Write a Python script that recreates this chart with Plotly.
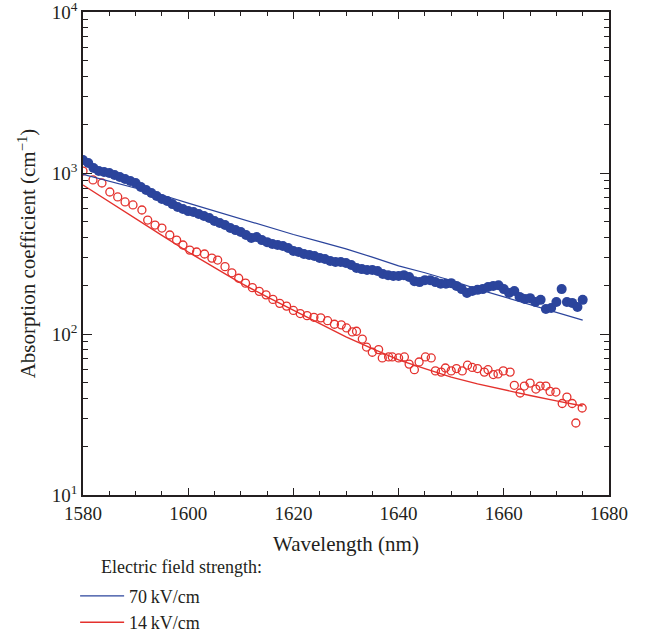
import plotly.graph_objects as go

# ---- data ----
blue_wl = list(range(1580, 1676))
blue_abs = [1205, 1153, 1074, 1028, 1014, 1000, 972, 944, 918, 892,
            867, 819, 784, 751, 719, 690, 670, 641, 615, 597,
            580, 572, 556, 540, 525, 503, 489, 475, 455, 442,
            430, 412, 395, 400, 383, 372, 362, 357, 352, 342,
            328, 323, 314, 310, 305, 297, 292, 284, 280, 280,
            276, 268, 257, 253, 250, 250, 246, 236, 232, 229,
            229, 232, 226, 213, 210, 216, 216, 210, 205, 205,
            207, 199, 190, 180, 185, 188, 190, 196, 199, 201,
            190, 180, 185, 170, 165, 167, 158, 163, 143, 145,
            158, 190, 158, 156, 147, 163]

red_wl = [1580.0, 1581.9, 1583.6, 1585.1, 1586.6, 1588.0, 1589.5, 1591.2, 1592.3, 1593.7,
          1595.0, 1596.5, 1597.8, 1599.0, 1600.3, 1601.6, 1603.1, 1604.5, 1605.6, 1607.0,
          1608.3, 1609.6, 1610.9, 1612.2, 1613.5, 1614.8, 1616.1, 1617.4, 1618.7, 1620.0,
          1621.3, 1622.6, 1623.9, 1625.2, 1626.5, 1627.8, 1629.1, 1630.1, 1631.2, 1632.0,
          1633.1, 1633.9, 1635.0, 1636.2, 1636.9, 1638.1, 1638.8, 1640.0, 1641.1, 1642.0,
          1643.0, 1643.9, 1645.1, 1646.2, 1647.0, 1648.1, 1648.9, 1650.0, 1651.0, 1652.1,
          1653.1, 1654.0, 1655.0, 1656.3, 1657.0, 1658.0, 1658.9, 1659.9, 1661.2, 1662.0,
          1663.1, 1663.9, 1665.0, 1666.1, 1666.9, 1668.0, 1668.8, 1669.9, 1671.1, 1672.0,
          1673.0, 1673.7, 1674.9]
red_abs = [1028, 906, 867, 762, 710, 661, 633, 589, 510, 475,
           455, 412, 383, 357, 332, 323, 314, 296, 288, 262,
           240, 222, 207, 194, 184, 175, 164, 155, 149, 140,
           134, 130, 127, 126, 121, 115, 114, 109, 103, 104,
           93, 83, 77, 80, 71, 72, 72, 71, 72, 65,
           60, 67, 72, 71, 59, 58, 61.5, 59, 61, 59,
           64, 62, 61, 58, 60, 56, 56.5, 59, 58, 48,
           43, 47.5, 49.6, 45.5, 47.5, 47.5, 44, 43.6, 37, 40.6,
           37, 28, 34.7]

fit_wl = list(range(1580, 1680, 5))
fit_70 = [980, 890, 810, 730, 650, 580, 520, 465, 415, 375,
          338, 300, 265, 240, 215, 190, 170, 153, 137, 122]
fit_14 = [842, 660, 518, 410, 323, 258, 207, 170, 141, 116,
          96, 81, 69, 61, 54, 49, 45, 41.5, 38.4, 35.7]

BLUE = "#2b449c"
RED = "#e4312d"
AXC = "#231f20"
FONT = "Liberation Serif"

fig = go.Figure()
fig.add_trace(go.Scatter(x=blue_wl, y=blue_abs, mode="markers", showlegend=False,
                         marker=dict(color=BLUE, size=10, line=dict(width=0))))
fig.add_trace(go.Scatter(x=red_wl, y=red_abs, mode="markers", showlegend=False,
                         marker=dict(symbol="circle-open", color=RED, size=8,
                                     line=dict(width=1.3, color=RED))))
fig.add_trace(go.Scatter(x=fit_wl, y=fit_70, mode="lines", name="70\u2009kV/cm",
                         legendgroup="a", line=dict(color=BLUE, width=1.2)))
fig.add_trace(go.Scatter(x=fit_wl, y=fit_14, mode="lines", name="14\u2009kV/cm",
                         legendgroup="b", line=dict(color=RED, width=1.4)))

fig.update_layout(
    width=657, height=638,
    margin=dict(l=83, r=48, t=12, b=143, autoexpand=False),
    paper_bgcolor="white", plot_bgcolor="white",
    font=dict(family=FONT, size=19, color=AXC),
    showlegend=True,
    legend=dict(x=-0.015, y=-0.171, xanchor="left", yanchor="top",
                bgcolor="rgba(0,0,0,0)", tracegroupgap=0, itemwidth=44,
                font=dict(family=FONT, size=18, color=AXC)),
    annotations=[dict(text="Electric field strength:", x=0.03, y=-0.125,
                      xref="paper", yref="paper", xanchor="left", yanchor="top",
                      showarrow=False, font=dict(family=FONT, size=18, color=AXC))],
)
fig.update_xaxes(
    range=[1580, 1680], dtick=20, tick0=1580,
    ticks="inside", ticklen=7, tickwidth=1.2, tickcolor=AXC,
    minor=dict(ticks="inside", dtick=5, ticklen=4, tickwidth=1.2, tickcolor=AXC),
    showline=True, linecolor=AXC, linewidth=1.5, mirror="ticks",
    showgrid=False, zeroline=False, automargin=False, ticklabeloverflow="allow",
    title=dict(text="Wavelength (nm)", standoff=14, font=dict(size=21)),
)
fig.update_yaxes(
    type="log", range=[1, 4],
    tickvals=[10, 100, 1000, 10000],
    ticktext=["10<sup>1</sup>", "10<sup>2</sup>", "10<sup>3</sup>", "10<sup>4</sup>"],
    ticks="inside", ticklen=9, tickwidth=1.2, tickcolor=AXC,
    minor=dict(ticks="inside", dtick="D1", ticklen=5, tickwidth=1.2, tickcolor=AXC),
    showline=True, linecolor=AXC, linewidth=1.5, mirror="ticks",
    showgrid=False, zeroline=False, automargin=False, ticklabeloverflow="allow",
    title=dict(text="Absorption coefficient (cm<sup>\u22121</sup>)", standoff=10,
               font=dict(size=21)),
)

fig.write_html("out.html")
